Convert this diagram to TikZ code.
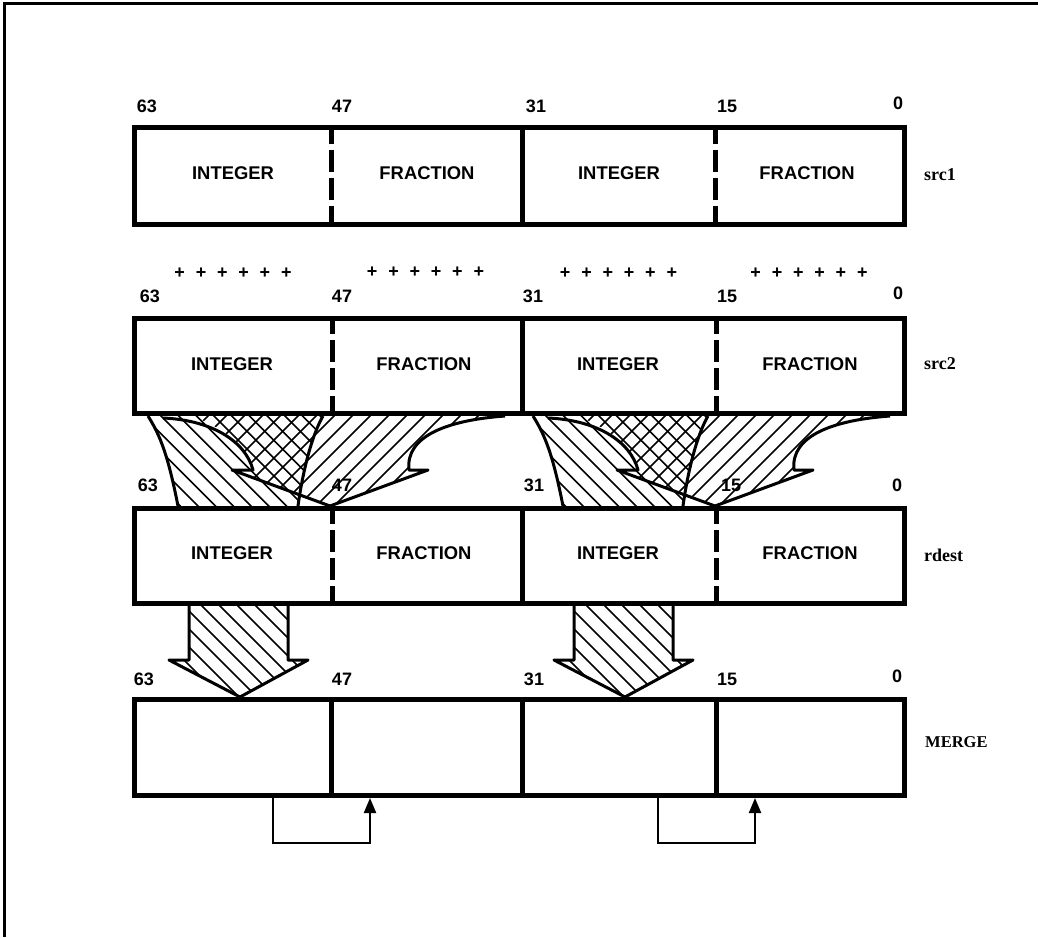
\documentclass[tikz,border=0pt]{standalone}
\usepackage{fontspec}
\setmainfont{Liberation Sans}
\newfontfamily\serifb{Liberation Serif}[BoldFont={* Bold}]
\usetikzlibrary{arrows.meta}
\tikzset{
  frameline/.style={line width=3pt,line cap=butt},
  regbox/.style={draw=black,fill=white,line width=5pt,rectangle,inner sep=0pt},
  solidbar/.style={line width=5pt},
  dashbar/.style={line width=5pt,dash pattern=on 22pt off 6pt,dash phase=6pt},
  celltext/.style={font=\fontsize{18.4}{20}\selectfont\bfseries,inner sep=0pt},
  bitnum/.style={font=\fontsize{18}{20}\selectfont\bfseries,inner sep=0pt},
  plusrow/.style={font=\fontsize{18}{20}\selectfont\bfseries,inner sep=0pt},
  sidetext/.style={font=\fontsize{18}{20}\selectfont\serifb\bfseries,inner sep=0pt},
  hatchline/.style={line width=1.6pt},
  outline/.style={line width=3pt,line join=round},
  feedback/.style={line width=2.2pt,-{Triangle[length=15pt,width=12pt]}},
}
\newcommand\plusses{\spaceskip=10.8pt plus 0pt minus 0pt + + + + + +}
% hatched swoosh arrows, drawn once per 32-bit half
\newcommand\swoosh{%
  \begin{scope}
    \clip (148,416) .. controls (160,435) and (168,455) .. (178,506) -- (298,506)
      .. controls (303,470) and (312,435) .. (323,416) -- cycle;
    \foreach \k in {-6,...,9} {
      \pgfmathsetmacro\hc{-255+17.7*\k}
      \draw[hatchline] ({\hc+400},400) -- ({\hc+520},520);
    }
  \end{scope}
  \begin{scope}
    \clip (192,416) .. controls (215,425) and (245,440) .. (253,470)
      -- (253,478) -- (300,495) .. controls (305,470) and (312,435) .. (323,416) -- cycle
      (323,416) -- (505,416) .. controls (450,420) and (405,435) .. (409,470)
      -- (428,470) -- (330,506) -- (300,495) .. controls (305,470) and (312,435) .. (323,416) -- cycle;
    \foreach \k in {-24,...,8} {
      \pgfmathsetmacro\hc{786+18*\k}
      \draw[hatchline] ({\hc-400},400) -- ({\hc-520},520);
    }
  \end{scope}
  \draw[outline] (148,416) .. controls (160,435) and (168,455) .. (178,506);
  \draw[outline] (163,418) .. controls (210,420) and (245,440) .. (253,470) -- (232,470) -- (330,506);
  \draw[outline] (323,416) .. controls (312,435) and (303,470) .. (298,506);
  \draw[outline] (505,416) .. controls (450,420) and (405,435) .. (409,470) -- (428,470) -- (330,506);
}
% straight block arrow
\newcommand\blockarrow{%
  \begin{scope}
    \clip (189,600) -- (288,600) -- (288,660) -- (308,660) -- (240,697) -- (169,660) -- (189,660) -- cycle;
    \foreach \k in {-7,...,7} {
      \pgfmathsetmacro\hc{-404+18*\k}
      \draw[hatchline] ({\hc+590},590) -- ({\hc+710},710);
    }
  \end{scope}
  \draw[outline] (189,600) -- (189,660) -- (169,660) -- (240,697) -- (308,660) -- (288,660) -- (288,600);
}
\begin{document}
\begin{tikzpicture}[x=1pt,y=-1pt]
\useasboundingbox (0,0) rectangle (1038,937);
\draw[frameline] (4,937) -- (4,3) -- (1038,3);

\swoosh
\begin{scope}[shift={(385,0)}] \swoosh \end{scope}
\blockarrow
\begin{scope}[shift={(385,0)}] \blockarrow \end{scope}

% registers
\node[regbox,minimum width=769.5pt,minimum height=97pt] (src1) at (519.25,176) {};
\node[regbox,minimum width=769.5pt,minimum height=95.5pt] (src2) at (519.25,365.75) {};
\node[regbox,minimum width=769.5pt,minimum height=95pt] (rdest) at (519.25,555.5) {};
\node[regbox,minimum width=769.5pt,minimum height=95.5pt] (merge) at (519.25,747.25) {};

\draw[dashbar] (331,127.5) -- (331,224.5);
\draw[solidbar] (522,127.5) -- (522,224.5);
\draw[dashbar] (715.5,127.5) -- (715.5,224.5);
\draw[dashbar] (332,318) -- (332,413.5);
\draw[solidbar] (522,318) -- (522,413.5);
\draw[dashbar] (716,318) -- (716,413.5);
\draw[dashbar] (332,508) -- (332,603);
\draw[solidbar] (522,508) -- (522,603);
\draw[dashbar] (716,508) -- (716,603);
\draw[solidbar] (331,699.5) -- (331,795);
\draw[solidbar] (522,699.5) -- (522,795);
\draw[solidbar] (716,699.5) -- (716,795);

% cell labels
\node[celltext] (a1) at (233,173) {INTEGER};
\node[celltext] (a2) at (427,173) {FRACTION};
\node[celltext] (a3) at (619,173) {INTEGER};
\node[celltext] (a4) at (807,173) {FRACTION};
\node[celltext] (b1) at (232,364) {INTEGER};
\node[celltext] (b2) at (424,364) {FRACTION};
\node[celltext] (b3) at (618,364) {INTEGER};
\node[celltext] (b4) at (810,364) {FRACTION};
\node[celltext] (c1) at (232,553) {INTEGER};
\node[celltext] (c2) at (424,553) {FRACTION};
\node[celltext] (c3) at (618,553) {INTEGER};
\node[celltext] (c4) at (810,553) {FRACTION};

% bit numbers
\node[bitnum] (n11) at (147,106) {63};
\node[bitnum] (n12) at (342,106) {47};
\node[bitnum] (n13) at (536,106) {31};
\node[bitnum] (n14) at (727,106) {15};
\node[bitnum] (n15) at (898,103) {0};
\node[bitnum] (n21) at (150,296) {63};
\node[bitnum] (n22) at (342,296) {47};
\node[bitnum] (n23) at (533,296) {31};
\node[bitnum] (n24) at (727,296) {15};
\node[bitnum] (n25) at (898,293) {0};
\node[bitnum] (n31) at (148,485) {63};
\node[bitnum] (n32) at (342,485) {47};
\node[bitnum] (n33) at (534,485) {31};
\node[bitnum] (n34) at (731,485) {15};
\node[bitnum] (n35) at (897,485) {0};
\node[bitnum] (n41) at (144,679) {63};
\node[bitnum] (n42) at (342,679) {47};
\node[bitnum] (n43) at (534,679) {31};
\node[bitnum] (n44) at (727,679) {15};
\node[bitnum] (n45) at (897,676) {0};

% plus rows
\node[plusrow] (p1) at (233,273) {\plusses};
\node[plusrow] (p2) at (425.5,272) {\plusses};
\node[plusrow] (p3) at (618.5,273) {\plusses};
\node[plusrow] (p4) at (809,273) {\plusses};

% side labels
\node[sidetext,anchor=west] (s1) at (924,175) {src1};
\node[sidetext,anchor=west] (s2) at (924,364) {src2};
\node[sidetext,anchor=west] (s3) at (924,555) {rdest};
\node[sidetext,anchor=west,font=\fontsize{16.5}{20}\selectfont\serifb\bfseries] (s4) at (925,742) {MERGE};

% feedback brackets
\coordinate (f1a) at (273,797);
\coordinate (f1b) at (273,843);
\coordinate (f1c) at (370,843);
\coordinate (f1d) at (370,798);
\coordinate (f2a) at (658,797);
\coordinate (f2b) at (658,843);
\coordinate (f2c) at (755,843);
\coordinate (f2d) at (755,798);
\draw[feedback] (f1a) -- (f1b) -- (f1c) -- (f1d);
\draw[feedback] (f2a) -- (f2b) -- (f2c) -- (f2d);
\end{tikzpicture}
\end{document}
